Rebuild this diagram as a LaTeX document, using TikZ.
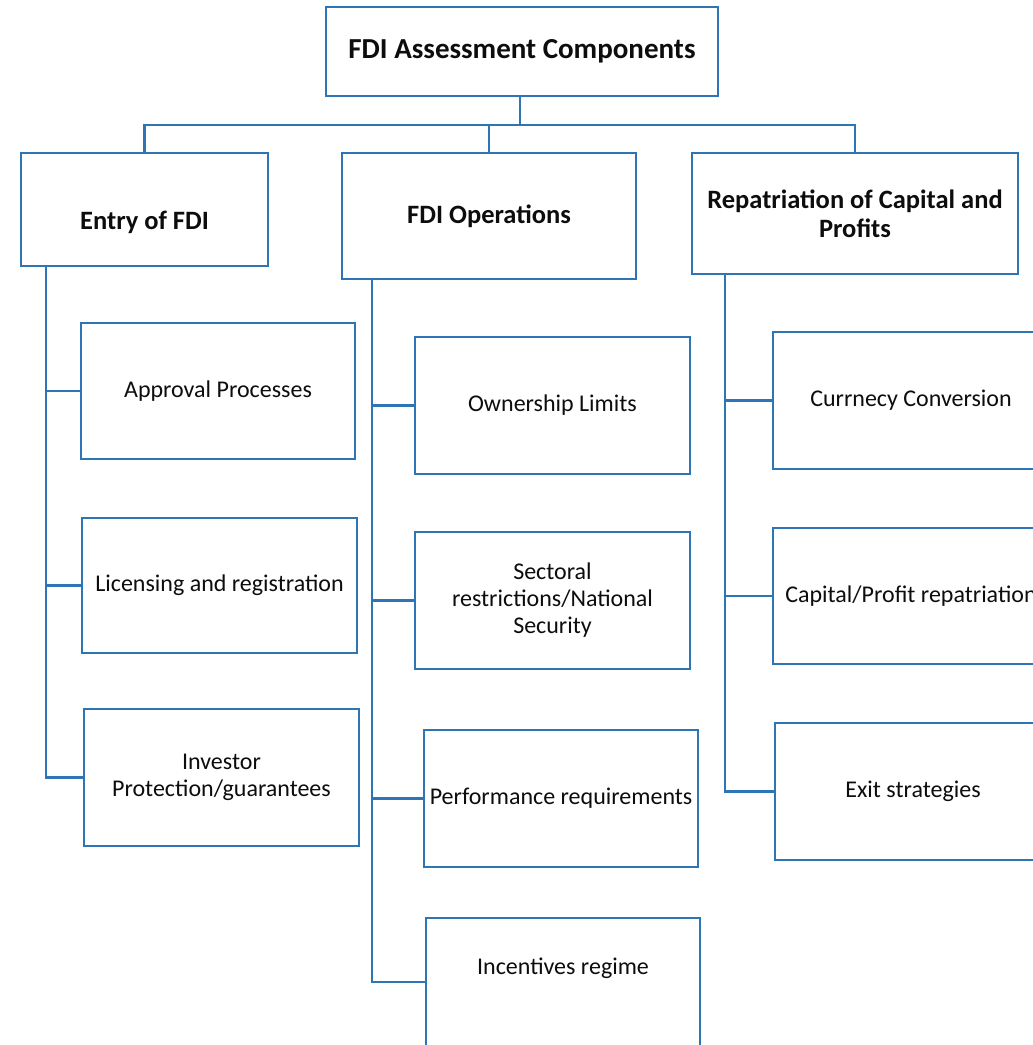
\documentclass[tikz,border=0pt]{standalone}
\usepackage{fontspec}
\setmainfont{Carlito}
\definecolor{lineblue}{HTML}{2E75B6}
\definecolor{txt}{HTML}{0D0D0D}
\tikzset{
  box/.style={draw=lineblue, line width=2.6pt, fill=white, text=txt, align=center, inner sep=1pt},
  conn/.style={draw=lineblue, line width=2.6pt},
  body/.style={font=\fontsize{24}{27}\selectfont},
  head/.style={font=\fontsize{26.5}{29}\selectfont\bfseries},
  title/.style={font=\fontsize{29}{33}\selectfont\bfseries},
}
\begin{document}
\begin{tikzpicture}[x=1pt,y=-1pt]
\useasboundingbox (0,0) rectangle (1033,1045);
\clip (0,0) rectangle (1033,1045);
% top
\node[box,title,minimum width=392,minimum height=89] (top) at (522,51.5) {FDI Assessment Components};
% level 1
\node[box,minimum width=247,minimum height=113] (entry) at (144.5,209.5) {};
\node[head,text=txt] (entryT) at (144.5,222) {Entry of FDI};
\node[box,head,minimum width=294,minimum height=126] (ops) at (489,216) {FDI Operations};
\node[box,head,minimum width=326,minimum height=121] (rep) at (855,213.5) {Repatriation of Capital and\\Profits};
% bus
\coordinate (bus) at (520,125);
\draw[conn] (top.south -| bus) -- (bus);
\draw[conn] (entry.north) -- (entry.north |- bus) -- (rep.north |- bus) -- (rep.north);
\draw[conn] (ops.north) -- (ops.north |- bus);
% entry children
\node[box,body,minimum width=274,minimum height=136] (appr) at (218,391) {Approval Processes};
\node[box,body,minimum width=275,minimum height=135] (lic) at (219.5,585.5) {Licensing and registration};
\node[box,body,minimum width=275,minimum height=137] (inv) at (221.5,777.5) {Investor\\Protection/guarantees};
\coordinate (etr) at (46,266);
\draw[conn] (etr) |- (inv.west);
\draw[conn] (etr |- appr.west) -- (appr.west);
\draw[conn] (etr |- lic.west) -- (lic.west);
% ops children
\node[box,body,minimum width=275,minimum height=137] (own) at (552.5,405.5) {Ownership Limits};
\node[box,body,minimum width=275,minimum height=137] (sec) at (552.5,600.5) {Sectoral\\restrictions/National\\Security};
\node[box,body,minimum width=274,minimum height=137] (perf) at (561,798.5) {Performance requirements};
\node[box,minimum width=274,minimum height=128] (inc) at (563,982) {};
\node[body,text=txt] (incT) at (563,968) {Incentives regime};
\coordinate (otr) at (372,279);
\draw[conn] (otr) |- (inc.west);
\draw[conn] (otr |- own.west) -- (own.west);
\draw[conn] (otr |- sec.west) -- (sec.west);
\draw[conn] (otr |- perf.west) -- (perf.west);
% rep children
\node[box,body,minimum width=276,minimum height=137] (cur) at (911,400.5) {Currnecy Conversion};
\node[box,body,minimum width=276,minimum height=136] (cap) at (911,596) {Capital/Profit repatriation};
\node[box,body,minimum width=276,minimum height=137] (exit) at (913,791.5) {Exit strategies};
\coordinate (rtr) at (725,274);
\draw[conn] (rtr) |- (exit.west);
\draw[conn] (rtr |- cur.west) -- (cur.west);
\draw[conn] (rtr |- cap.west) -- (cap.west);
\end{tikzpicture}
\end{document}
